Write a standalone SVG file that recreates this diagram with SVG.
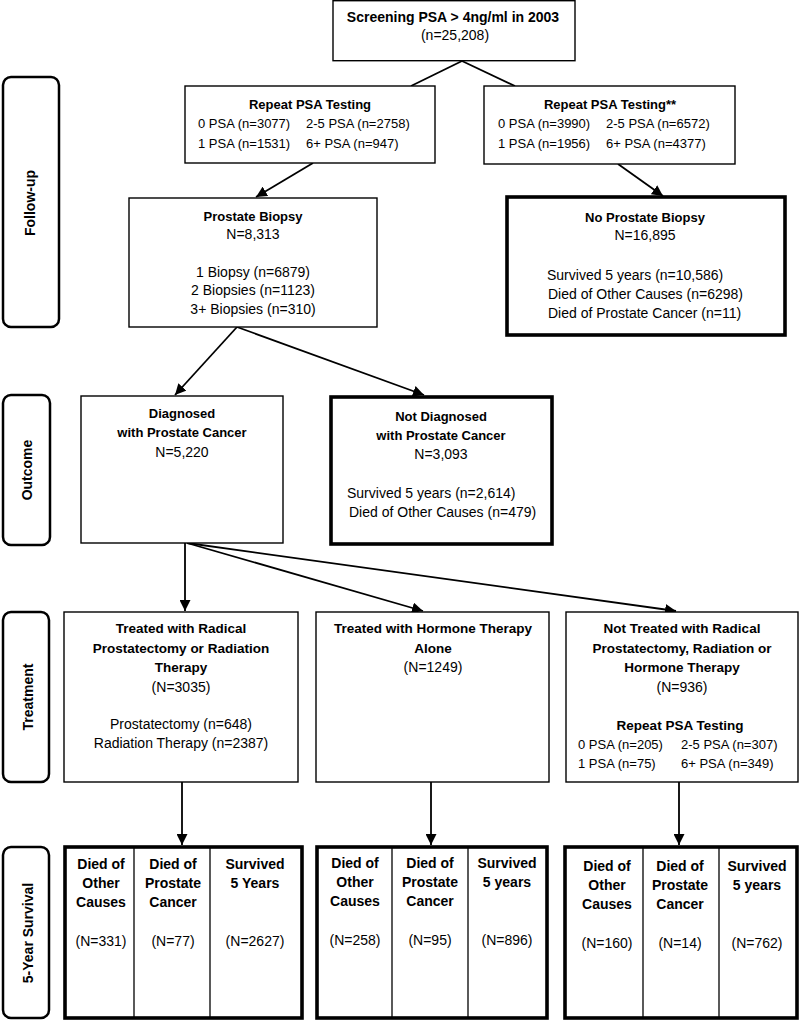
<svg xmlns="http://www.w3.org/2000/svg" width="800" height="1020" viewBox="0 0 800 1020">
<style>
.box{fill:#fff;stroke:#000;stroke-width:1.4}
.thick{fill:#fff;stroke:#000;stroke-width:3.6}
.side{fill:#fff;stroke:#000;stroke-width:2.5}
.div{stroke:#000;stroke-width:1.3}
.con{stroke:#000;stroke-width:1.8;fill:none}
text{font-family:"Liberation Sans",Arial,sans-serif;font-size:14px;text-anchor:middle;fill:#000}
.b{font-weight:bold;font-size:13px}
.bt{font-weight:bold;font-size:13.5px}
.bs{font-weight:bold;font-size:14px}
.s{font-size:13px}
.l{text-anchor:start}
.lab{font-weight:bold}
</style>
<defs>
<marker id="ah" markerUnits="userSpaceOnUse" markerWidth="12" markerHeight="11" refX="11" refY="5.5" orient="auto">
<path d="M0,0 L11,5.5 L0,11 z" fill="#000"/>
</marker>
</defs>

<g id="connectors">
<line class="con" x1="462" y1="61" x2="411" y2="86"/>
<line class="con" x1="462" y1="61" x2="515" y2="86"/>
<line class="con" x1="313" y1="163" x2="256" y2="197" marker-end="url(#ah)"/>
<line class="con" x1="618" y1="164" x2="663" y2="196" marker-end="url(#ah)"/>
<line class="con" x1="237" y1="327" x2="175" y2="395" marker-end="url(#ah)"/>
<line class="con" x1="237" y1="327" x2="424" y2="395" marker-end="url(#ah)"/>
<line class="con" x1="185" y1="543" x2="185" y2="611" marker-end="url(#ah)"/>
<line class="con" x1="187" y1="543" x2="423" y2="611" marker-end="url(#ah)"/>
<line class="con" x1="187" y1="543" x2="676" y2="611" marker-end="url(#ah)"/>
<line class="con" x1="182" y1="782" x2="182" y2="845" marker-end="url(#ah)"/>
<line class="con" x1="431" y1="782" x2="431" y2="845" marker-end="url(#ah)"/>
<line class="con" x1="679" y1="782" x2="679" y2="845" marker-end="url(#ah)"/>
</g>

<g id="label-followup">
<rect class="side" x="3" y="77" width="56" height="250" rx="8"/>
<text class="lab" font-size="14.5" transform="translate(30,203) rotate(-90)" y="5">Follow-up</text>
</g>
<g id="label-outcome">
<rect class="side" x="3" y="395" width="47" height="150" rx="8"/>
<text class="lab" font-size="15" transform="translate(27,470) rotate(-90)" y="5">Outcome</text>
</g>
<g id="label-treatment">
<rect class="side" x="3" y="612" width="46" height="170" rx="8"/>
<text class="lab" font-size="16" transform="translate(27,697) rotate(-90)" y="6">Treatment</text>
</g>
<g id="label-survival">
<rect class="side" x="3" y="847" width="46" height="171" rx="8"/>
<text class="lab" font-size="15.5" transform="translate(27,933) rotate(-90)" y="6">5-Year Survival</text>
</g>

<g id="screening">
<rect class="box" x="333" y="0.7" width="242" height="60"/>
<text class="bs" x="453" y="22">Screening PSA &gt; 4ng/ml in 2003</text>
<text x="455" y="40">(n=25,208)</text>
</g>

<g id="repeat-psa-left">
<rect class="box" x="185" y="86" width="250" height="77"/>
<text class="b" font-size="12.5" x="310" y="109">Repeat PSA Testing</text>
<text class="s l" x="198" y="128">0 PSA (n=3077)</text>
<text class="s l" x="306" y="128">2-5 PSA (n=2758)</text>
<text class="s l" x="198" y="148">1 PSA (n=1531)</text>
<text class="s l" x="306" y="148">6+ PSA (n=947)</text>
</g>

<g id="repeat-psa-right">
<rect class="box" x="484" y="86" width="251" height="78"/>
<text class="b" font-size="12.5" x="610" y="109">Repeat PSA Testing**</text>
<text class="s l" x="498" y="128">0 PSA (n=3990)</text>
<text class="s l" x="606" y="128">2-5 PSA (n=6572)</text>
<text class="s l" x="498" y="148">1 PSA (n=1956)</text>
<text class="s l" x="606" y="148">6+ PSA (n=4377)</text>
</g>

<g id="prostate-biopsy">
<rect class="box" x="129" y="198" width="248" height="129"/>
<text class="b" x="253" y="221">Prostate Biopsy</text>
<text x="253" y="239">N=8,313</text>
<text x="253" y="277">1 Biopsy (n=6879)</text>
<text x="253" y="295">2 Biopsies (n=1123)</text>
<text x="253" y="314">3+ Biopsies (n=310)</text>
</g>

<g id="no-prostate-biopsy">
<rect class="thick" x="507" y="197" width="278" height="138"/>
<text class="b" x="645" y="222">No Prostate Biopsy</text>
<text x="645" y="240">N=16,895</text>
<text class="l" x="547" y="280">Survived 5 years (n=10,586)</text>
<text class="l" x="548" y="299">Died of Other Causes (n=6298)</text>
<text class="l" x="548" y="318">Died of Prostate Cancer (n=11)</text>
</g>

<g id="diagnosed">
<rect class="box" x="81" y="396" width="202" height="147"/>
<text class="b" x="182" y="418">Diagnosed</text>
<text class="b" x="182" y="437">with Prostate Cancer</text>
<text x="182" y="457">N=5,220</text>
</g>

<g id="not-diagnosed">
<rect class="thick" x="331" y="397" width="221" height="147"/>
<text class="b" x="441" y="421">Not Diagnosed</text>
<text class="b" x="441" y="440">with Prostate Cancer</text>
<text x="441" y="459">N=3,093</text>
<text class="l" x="347" y="498">Survived 5 years (n=2,614)</text>
<text class="l" x="349" y="517">Died of Other Causes (n=479)</text>
</g>

<g id="treated-radical">
<rect class="box" x="64" y="612" width="234" height="170"/>
<text class="bt" x="181" y="633">Treated with Radical</text>
<text class="bt" x="181" y="653">Prostatectomy or Radiation</text>
<text class="bt" x="181" y="672">Therapy</text>
<text x="181" y="692">(N=3035)</text>
<text x="181" y="729">Prostatectomy (n=648)</text>
<text x="181" y="748">Radiation Therapy (n=2387)</text>
</g>

<g id="treated-hormone">
<rect class="box" x="316" y="612" width="233" height="170"/>
<text class="bt" x="433" y="633">Treated with Hormone Therapy</text>
<text class="bt" x="433" y="653">Alone</text>
<text x="433" y="672">(N=1249)</text>
</g>

<g id="not-treated">
<rect class="box" x="566" y="612" width="232" height="170"/>
<text class="bt" x="682" y="633">Not Treated with Radical</text>
<text class="bt" x="682" y="653">Prostatectomy, Radiation or</text>
<text class="bt" x="682" y="672">Hormone Therapy</text>
<text x="682" y="692">(N=936)</text>
<text class="bt" x="680" y="730">Repeat PSA Testing</text>
<text class="s l" x="578" y="749">0 PSA (n=205)</text>
<text class="s l" x="681" y="749">2-5 PSA (n=307)</text>
<text class="s l" x="578" y="768">1 PSA (n=75)</text>
<text class="s l" x="681" y="768">6+ PSA (n=349)</text>
</g>

<g id="survival-radical">
<rect class="thick" x="65" y="847" width="237" height="171"/>
<line class="div" x1="134" y1="847" x2="134" y2="1018"/>
<line class="div" x1="210" y1="847" x2="210" y2="1018"/>
<text class="bs" x="101" y="869">Died of</text>
<text class="bs" x="101" y="888">Other</text>
<text class="bs" x="101" y="907">Causes</text>
<text x="101" y="946">(N=331)</text>
<text class="bs" x="173" y="869">Died of</text>
<text class="bs" x="173" y="888">Prostate</text>
<text class="bs" x="173" y="907">Cancer</text>
<text x="173" y="946">(N=77)</text>
<text class="bs" x="255" y="869">Survived</text>
<text class="bs" x="255" y="888">5 Years</text>
<text x="255" y="946">(N=2627)</text>
</g>

<g id="survival-hormone">
<rect class="thick" x="317" y="847" width="230" height="171"/>
<line class="div" x1="392" y1="847" x2="392" y2="1018"/>
<line class="div" x1="468" y1="847" x2="468" y2="1018"/>
<text class="bs" x="355" y="868">Died of</text>
<text class="bs" x="355" y="887">Other</text>
<text class="bs" x="355" y="906">Causes</text>
<text x="355" y="945">(N=258)</text>
<text class="bs" x="430" y="868">Died of</text>
<text class="bs" x="430" y="887">Prostate</text>
<text class="bs" x="430" y="906">Cancer</text>
<text x="430" y="945">(N=95)</text>
<text class="bs" x="507" y="868">Survived</text>
<text class="bs" x="507" y="887">5 years</text>
<text x="507" y="945">(N=896)</text>
</g>

<g id="survival-not-treated">
<rect class="thick" x="565" y="847" width="232" height="171"/>
<line class="div" x1="643" y1="847" x2="643" y2="1018"/>
<line class="div" x1="719" y1="847" x2="719" y2="1018"/>
<text class="bs" x="607" y="871">Died of</text>
<text class="bs" x="607" y="890">Other</text>
<text class="bs" x="607" y="909">Causes</text>
<text x="607" y="948">(N=160)</text>
<text class="bs" x="680" y="871">Died of</text>
<text class="bs" x="680" y="890">Prostate</text>
<text class="bs" x="680" y="909">Cancer</text>
<text x="680" y="948">(N=14)</text>
<text class="bs" x="757" y="871">Survived</text>
<text class="bs" x="757" y="890">5 years</text>
<text x="757" y="948">(N=762)</text>
</g>
</svg>
